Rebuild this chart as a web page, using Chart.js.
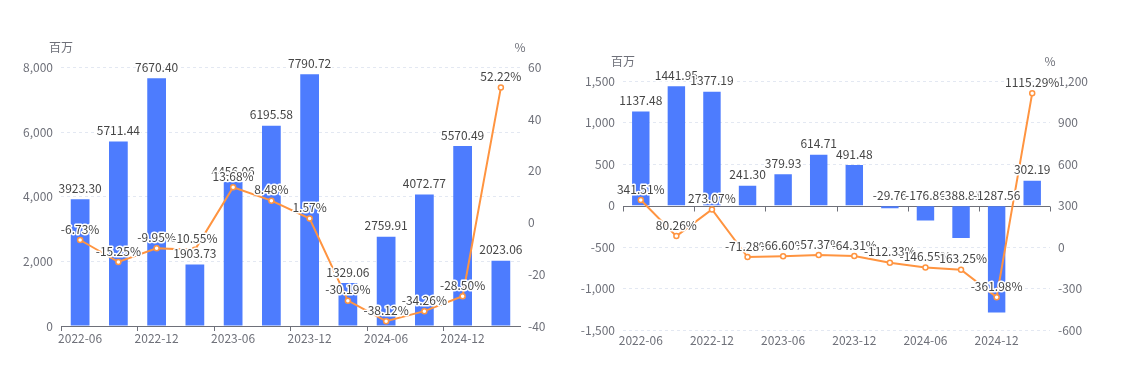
<!DOCTYPE html>
<html>
<head>
<meta charset="utf-8">
<script src="https://cdn.jsdelivr.net/npm/chart.js@4.4.1/dist/chart.umd.min.js"></script>
<style>
  html, body { margin: 0; padding: 0; background: #fff; }
  #wrap { position: relative; width: 1124px; height: 384px; }
  canvas { position: absolute; top: 0; }
</style>
</head>
<body>
<div id="wrap">
  <canvas id="left" width="562" height="384" style="left:0"></canvas>
  <canvas id="right" width="562" height="384" style="left:562px"></canvas>
</div>
<script>
// 分季度数据
const quarters = ['2022-06', '2022-09', '2022-12', '2023-03', '2023-06', '2023-09',
                  '2023-12', '2024-03', '2024-06', '2024-09', '2024-12', '2025-03'];

// 左图: 金额(百万) + 同比(%)
const leftBars = [3923.30, 5711.44, 7670.40, 1903.73, 4456.06, 6195.58,
                  7790.72, 1329.06, 2759.91, 4072.77, 5570.49, 2023.06];
const leftRates = [-6.73, -15.25, -9.95, -10.55, 13.68, 8.48,
                   1.57, -30.19, -38.12, -34.26, -28.50, 52.22];

// 右图
const rightBars = [1137.48, 1441.95, 1377.19, 241.30, 379.93, 614.71,
                   491.48, -29.76, -176.86, -388.81, -1287.56, 302.19];
const rightRates = [341.51, 80.26, 273.07, -71.28, -66.60, -57.37,
                    -64.31, -112.33, -146.55, -163.25, -361.98, 1115.29];

// 坐标轴刻度范围 [min, max, step]
const leftAxisY = [0, 8000, 2000];
const leftAxisY1 = [-40, 60, 20];
const rightAxisY = [-1500, 1500, 500];
const rightAxisY1 = [-600, 1200, 300];

const FONT = '"Noto Sans CJK SC", "Noto Sans", sans-serif';
const AXIS_COLOR = '#6e7079';
const GRID_COLOR = '#e3e8f2';
const BAR_COLOR = '#4d7cfe';
const LINE_COLOR = '#ff9440';

Chart.defaults.font.family = FONT;
Chart.defaults.font.size = 12;
Chart.defaults.color = AXIS_COLOR;

// 数据标签
const valueLabels = {
  id: 'valueLabels',
  afterDatasetsDraw(chart) {
    const ctx = chart.ctx;
    ctx.save();
    ctx.font = '12px ' + FONT;
    ctx.textAlign = 'center';
    ctx.textBaseline = 'bottom';
    ctx.lineJoin = 'round';
    ctx.lineWidth = 3;
    ctx.strokeStyle = '#fff';
    ctx.fillStyle = '#464646';
    ['bar', 'line'].forEach(type => {
      chart.data.datasets.forEach((ds, di) => {
        if (ds.type !== type) return;
        chart.getDatasetMeta(di).data.forEach((el, i) => {
          const v = ds.data[i];
          const txt = v.toFixed(2) + (type === 'line' ? '%' : '');
          const y = (type === 'bar' ? Math.min(el.y, el.base) : el.y) - 5;
          ctx.strokeText(txt, el.x, y);
          ctx.fillText(txt, el.x, y);
        });
      });
    });
    ctx.restore();
  }
};

// 坐标轴名称
const axisNames = {
  id: 'axisNames',
  afterDraw(chart) {
    const ctx = chart.ctx;
    const a = chart.chartArea;
    ctx.save();
    ctx.font = '12px ' + FONT;
    ctx.fillStyle = AXIS_COLOR;
    ctx.textAlign = 'center';
    ctx.textBaseline = 'middle';
    ctx.fillText('百万', a.left, a.top - 20);
    ctx.fillText('%', a.right, a.top - 20);
    ctx.restore();
  }
};

// 零轴 (右图 x 轴线在 0 处)
const zeroAxis = {
  id: 'zeroAxis',
  beforeDatasetsDraw(chart, args, opts) {
    if (!opts.enabled) return;
    const ctx = chart.ctx;
    const x = chart.scales.x;
    const y0 = chart.scales.y.getPixelForValue(0);
    const step = (x.right - x.left) / quarters.length;
    ctx.save();
    ctx.strokeStyle = AXIS_COLOR;
    ctx.lineWidth = 1;
    ctx.beginPath();
    ctx.moveTo(x.left, Math.round(y0) + 0.5);
    ctx.lineTo(x.right, Math.round(y0) + 0.5);
    for (let i = 0; i <= quarters.length; i += 2) {
      const px = Math.round(x.left + i * step) + 0.5;
      ctx.moveTo(px, Math.round(y0) + 0.5);
      ctx.lineTo(px, Math.round(y0) + 5.5);
    }
    ctx.stroke();
    ctx.restore();
  }
};

function makeChart(id, bars, rates, ay, ay1, geo) {
  return new Chart(document.getElementById(id), {
    data: {
      labels: quarters,
      datasets: [
        {
          type: 'line',
          data: rates,
          yAxisID: 'y1',
          order: 0,
          borderColor: LINE_COLOR,
          borderWidth: 2,
          pointRadius: 2.5,
          pointBorderWidth: 1.5,
          pointBackgroundColor: '#fff',
          pointBorderColor: LINE_COLOR,
          tension: 0
        },
        {
          type: 'bar',
          data: bars,
          yAxisID: 'y',
          order: 1,
          backgroundColor: BAR_COLOR,
          categoryPercentage: 1,
          barPercentage: 0.49
        }
      ]
    },
    options: {
      responsive: false,
      animation: false,
      layout: { padding: { top: geo.top, left: 0, right: 0, bottom: 0 } },
      plugins: {
        legend: { display: false },
        tooltip: { enabled: false },
        zeroAxis: { enabled: geo.zeroAxis }
      },
      scales: {
        x: {
          offset: true,
          afterFit: s => { s.height = geo.xHeight; },
          border: { display: !geo.zeroAxis, color: AXIS_COLOR },
          grid: {
            display: !geo.zeroAxis,
            offset: true,
            drawOnChartArea: false,
            drawTicks: !geo.zeroAxis,
            tickLength: 5,
            color: c => c.index % 2 === 0 ? AXIS_COLOR : 'rgba(0,0,0,0)'
          },
          ticks: {
            autoSkip: false,
            maxRotation: 0,
            padding: geo.xPad,
            color: AXIS_COLOR,
            callback: (v, i) => i % 2 === 0 ? quarters[i] : ''
          }
        },
        y: {
          position: 'left',
          min: ay[0], max: ay[1],
          afterFit: s => { s.width = geo.yWidth; },
          border: { display: false, dash: [3, 3] },
          grid: {
            drawTicks: false,
            color: c => (c.tick.value === 0) ? 'rgba(0,0,0,0)' : GRID_COLOR
          },
          ticks: { stepSize: ay[2], padding: 8, color: AXIS_COLOR }
        },
        y1: {
          position: 'right',
          min: ay1[0], max: ay1[1],
          afterFit: s => { s.width = geo.y1Width; },
          border: { display: false },
          grid: { drawOnChartArea: false, drawTicks: false },
          ticks: { stepSize: ay1[2], padding: 8, color: AXIS_COLOR }
        }
      }
    },
    plugins: [zeroAxis, valueLabels, axisNames]
  });
}

makeChart('left', leftBars, leftRates, leftAxisY, leftAxisY1,
  { top: 67.5, yWidth: 61, y1Width: 42, xHeight: 58, xPad: 0, zeroAxis: false });
makeChart('right', rightBars, rightRates, rightAxisY, rightAxisY1,
  { top: 81.5, yWidth: 61, y1Width: 74, xHeight: 54, xPad: 3, zeroAxis: true });
</script>
</body>
</html>
